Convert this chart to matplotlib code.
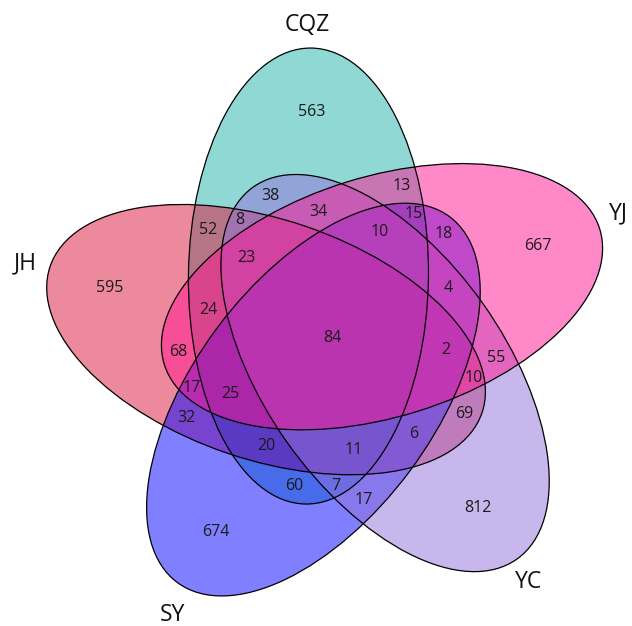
import numpy as np
import matplotlib
matplotlib.use("Agg")
import matplotlib.pyplot as plt
from matplotlib.patches import Ellipse

plt.rcParams['font.family'] = ['Open Sans', 'DejaVu Sans']

# sets clockwise from the top, and the order they are painted in
ring = ['CQZ', 'YJ', 'YC', 'SY', 'JH']
draw_order = ['CQZ', 'JH', 'SY', 'YC', 'YJ']
colors = {'CQZ': '#20b2aa', 'JH': '#dc143c', 'SY': '#0000ff',
          'YC': '#9370db', 'YJ': '#ff1493'}

# region -> count
regions = [
    'CQZ', 'YJ', 'YC', 'SY', 'JH',
    'CQZ&YC', 'CQZ&YJ', 'CQZ&JH', 'CQZ&SY', 'YJ&JH',
    'SY&JH', 'YC&JH', 'YJ&YC', 'YJ&SY', 'YC&SY',
    'CQZ&YC&JH', 'CQZ&YJ&YC', 'CQZ&YJ&SY', 'CQZ&YJ&JH', 'YJ&YC&SY',
    'YJ&YC&JH', 'YJ&SY&JH', 'CQZ&SY&JH', 'YC&SY&JH', 'CQZ&YC&SY',
    'CQZ&YJ&YC&JH', 'CQZ&YJ&YC&SY', 'YJ&YC&SY&JH', 'CQZ&YJ&SY&JH', 'CQZ&YC&SY&JH',
    'CQZ&YJ&YC&SY&JH',
]
counts = [
    563, 667, 812, 674, 595,
    38, 13, 52, 60, 68,
    32, 69, 55, 18, 17,
    8, 34, 15, 24, 4,
    10, 17, 20, 6, 7,
    23, 10, 2, 25, 11,
    84,
]

# layout of the five ellipses (pixels)
cx, cy = 331, 337
off, phase, tilt = 65, -110.3, 21
A, B = 228, 120
# set-name placement: angle (deg) and distance from the middle
lab_ang = [-94.4, -23.2, 51.2, 119.7, 193.6]
lab_dist = [313, 313, 315, 320, 314]

geo = {}
for k, name in enumerate(ring):
    phi = np.deg2rad(phase + 72 * k)
    geo[name] = (cx + off * np.cos(phi), cy + off * np.sin(phi), phase + 72 * k + tilt)


def inside(name, x, y):
    ex, ey, th = geo[name]
    t = np.deg2rad(th)
    u = (x - ex) * np.cos(t) + (y - ey) * np.sin(t)
    v = -(x - ex) * np.sin(t) + (y - ey) * np.cos(t)
    return (u / A) ** 2 + (v / B) ** 2 <= 1


def outline(name, n=720):
    ex, ey, th = geo[name]
    t = np.deg2rad(th)
    s = np.linspace(0, 2 * np.pi, n, endpoint=False)
    u, v = A * np.cos(s), B * np.sin(s)
    return np.c_[ex + u * np.cos(t) - v * np.sin(t), ey + u * np.sin(t) + v * np.cos(t)]


fig = plt.figure(figsize=(6.32, 6.26), dpi=100)
ax = fig.add_axes([0, 0, 1, 1])
ax.set_xlim(0, 632)
ax.set_ylim(626, 0)
ax.axis('off')

for name in draw_order:
    ex, ey, th = geo[name]
    ax.add_patch(Ellipse((ex, ey), 2 * A, 2 * B, angle=th, facecolor=colors[name],
                         alpha=0.5, edgecolor='none'))
for name in draw_order:
    ex, ey, th = geo[name]
    ax.add_patch(Ellipse((ex, ey), 2 * A, 2 * B, angle=th, facecolor='none',
                         edgecolor='black', lw=0.9))

for name, ang, dist in zip(ring, lab_ang, lab_dist):
    a = np.deg2rad(ang)
    ax.text(cx + dist * np.cos(a), cy + dist * np.sin(a), name, fontsize=16.5,
            ha='center', va='center', color='#111111')

# put each count at the most interior point of its region
gx, gy = np.meshgrid(np.arange(0, 632, 2.0), np.arange(0, 626, 2.0))
gx, gy = gx.ravel(), gy.ravel()
inmask = {n: inside(n, gx, gy) for n in ring}
edge = np.vstack([outline(n) for n in ring])
for reg, cnt in zip(regions, counts):
    members = reg.split('&')
    m = np.ones_like(gx, dtype=bool)
    for n in ring:
        m &= inmask[n] if n in members else ~inmask[n]
    px, py = gx[m], gy[m]
    if len(px) == 0:
        continue
    d = np.full(len(px), np.inf)
    for i in range(0, len(px), 2000):
        dx = px[i:i + 2000, None] - edge[None, :, 0]
        dy = py[i:i + 2000, None] - edge[None, :, 1]
        d[i:i + 2000] = np.sqrt(dx ** 2 + dy ** 2).min(axis=1)
    j = np.argmax(d)
    ax.text(px[j], py[j], str(cnt), fontsize=11.5, ha='center', va='center',
            color='#1a1a1a')

fig.savefig('out.png', dpi=100)
